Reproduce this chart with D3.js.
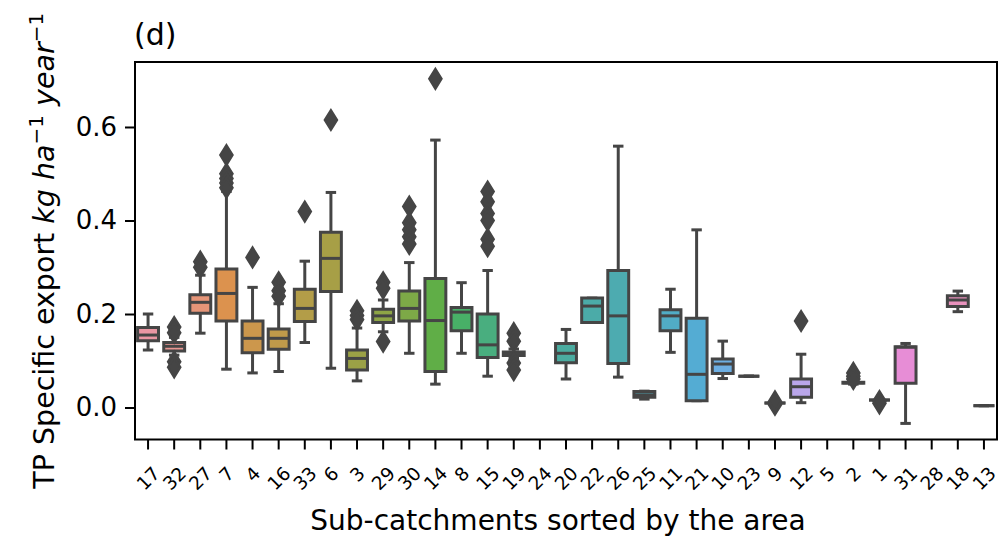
<!DOCTYPE html>
<html lang="en">
<head>
    <meta charset="UTF-8">
    <title>TP specific export by sub-catchment</title>
    <script src="https://cdn.jsdelivr.net/npm/d3@7/dist/d3.min.js"></script>
    <style>
        body { margin: 0; background: #fff; }
        text { font-family: "DejaVu Sans", sans-serif; }
    </style>
</head>
<body>
<svg id="boxplot" width="1004" height="537"></svg>
<script>
    // sub-catchments, sorted by the area
    const categories = ["17","32","27","7","4","16","33","6","3","29","30","14","8","15","19","24",
        "20","22","26","25","11","21","10","23","9","12","5","2","1","31","28","18","13"];
    // box statistics (null = no data)
    const whiskerLow = [0.123,0.112,0.159,0.082,0.074,0.077,0.139,0.084,0.057,0.162,0.116,0.050,0.116,0.067,0.105,null,
        0.061,0.182,0.065,0.018,0.118,0.0146,0.062,0.067,0.0096,0.0103,null,0.050,0.016,-0.034,null,0.205,0.004];
    const q1 = [0.143,0.121,0.2015,0.185,0.117,0.1245,0.184,0.248,0.080,0.182,0.185,0.077,0.164,0.107,0.111,null,
        0.096,0.182,0.094,0.022,0.164,0.0146,0.073,0.067,0.0096,0.022,null,0.052,0.016,0.052,null,0.216,0.004];
    const median = [0.155,0.131,0.225,0.244,0.148,0.148,0.212,0.319,0.105,0.196,0.212,0.186,0.204,0.134,0.115,null,
        0.116,0.217,0.196,0.027,0.196,0.071,0.093,0.067,0.0096,0.0445,null,0.053,0.016,0.129,null,0.230,0.004];
    const q3 = [0.171,0.139,0.241,0.296,0.185,0.168,0.253,0.375,0.123,0.210,0.249,0.276,0.214,0.200,0.119,null,
        0.137,0.234,0.293,0.034,0.209,0.191,0.104,0.067,0.0096,0.061,null,0.054,0.016,0.130,null,0.239,0.004];
    const whiskerHigh = [0.200,0.150,0.283,0.462,0.257,0.222,0.313,0.460,0.170,0.230,0.310,0.572,0.267,0.293,0.125,null,
        0.167,0.234,0.559,0.035,0.253,0.380,0.142,0.067,0.0096,0.114,null,0.056,0.016,0.137,null,0.249,0.004];
    const outliers = [[],[0.172,0.160,0.098,0.086],[0.312,0.300],[0.540,0.500,0.490,0.480,0.470],[0.321],
        [0.268,0.250,0.238],[0.419],[0.615],[0.207,0.197,0.188],[0.268,0.255,0.141],
        [0.430,0.395,0.380,0.365,0.350],[0.703],[],[0.462,0.440,0.415,0.400,0.360,0.345],
        [0.159,0.142,0.095,0.080],[],[],[],[],[],[],[],[],[],[0.006,0.013],[0.185],[],
        [0.074,0.067,0.061],[0.009,0.014],[],[],[],[]];
    const yTicks = [0.0, 0.2, 0.4, 0.6];

    let svg = d3.select('svg#boxplot');
    let plot = {left: 135, right: 997, top: 62, bottom: 439.5};

    // husl palette (seaborn default for many levels), desaturated to 0.75
    const M = [[3.2406, -1.5372, -0.4986], [-0.9689, 1.8758, 0.0415], [0.0557, -0.2040, 1.0570]];
    function maxChroma(L, H) {
        let hrad = H / 360 * 2 * Math.PI, sinH = Math.sin(hrad), cosH = Math.cos(hrad);
        let sub1 = Math.pow(L + 16, 3) / 1560896;
        let sub2 = sub1 > 0.008856 ? sub1 : L / 903.3;
        let result = Infinity;
        M.forEach(function(row){
            let top = (0.99915 * row[0] + 1.05122 * row[1] + 1.14460 * row[2]) * sub2;
            let rbottom = 0.86330 * row[2] - 0.17266 * row[1];
            let lbottom = 0.12949 * row[2] - 0.38848 * row[0];
            let bottom = (rbottom * sinH + lbottom * cosH) * sub2;
            [0, 1].forEach(function(t){
                let C = L * (top - 1.05122 * t) / (bottom + 0.17266 * sinH * t);
                if (C > 0 && C < result) result = C;
            });
        });
        return result;
    }
    function fromLinear(c) { return c <= 0.0031308 ? 12.92 * c : 1.055 * Math.pow(c, 1 / 2.4) - 0.055; }
    function huslToRgb(h, s, l) {
        let C = maxChroma(l, h) / 100 * s;
        let hrad = h / 360 * 2 * Math.PI;
        let U = C * Math.cos(hrad), V = C * Math.sin(hrad);
        let Y = l > 8 ? Math.pow((l + 16) / 116, 3) : l / 903.3;
        let varU = U / (13 * l) + 0.19784, varV = V / (13 * l) + 0.46834;
        let X = -(9 * Y * varU) / ((varU - 4) * varV - varU * varV);
        let Z = (9 * Y - 15 * varV * Y - varV * X) / (3 * varV);
        return M.map(function(r){ return Math.min(1, Math.max(0, fromLinear(r[0] * X + r[1] * Y + r[2] * Z))); });
    }
    let n = categories.length;
    let colours = d3.range(n).map(function(i){
        let h = ((i / n + 0.01) % 1) * 359;
        let rgb = huslToRgb(h, 0.9 * 99, 0.7 * 99);
        let c = d3.hsl(d3.rgb(rgb[0] * 255, rgb[1] * 255, rgb[2] * 255));
        c.s *= 0.75;
        return c;
    });
    let lum = Math.round(d3.min(colours, function(c){ return c.l; }) * 0.6 * 255);
    let gray = d3.rgb(lum, lum, lum).formatHex();

    let xScale = d3.scaleBand().domain(categories).range([plot.left, plot.right]).padding(0);
    let yScale = d3.scaleLinear().domain([-0.0684, 0.739]).range([plot.bottom, plot.top]);

    let boxW = xScale.bandwidth() * 0.8;
    let capW = boxW * 0.5;

    let boxes = categories.map(function(c, i){
        return {cat: c, i: i, lo: whiskerLow[i], q1: q1[i], med: median[i], q3: q3[i], hi: whiskerHigh[i], out: outliers[i]};
    }).filter(function(d){ return d.med !== null; });

    let g = svg.selectAll('g.box')
        .data(boxes)
        .enter()
        .append('g')
        .attr('class', 'box')
        .attr('transform', function(d){ return 'translate(' + (xScale(d.cat) + xScale.bandwidth() / 2) + ',0)'; });

    let lineW = 3;
    // whiskers
    g.append('line').attr('x1', 0).attr('x2', 0)
        .attr('y1', function(d){ return yScale(d.q1); }).attr('y2', function(d){ return yScale(d.lo); })
        .attr('stroke', gray).attr('stroke-width', lineW);
    g.append('line').attr('x1', 0).attr('x2', 0)
        .attr('y1', function(d){ return yScale(d.q3); }).attr('y2', function(d){ return yScale(d.hi); })
        .attr('stroke', gray).attr('stroke-width', lineW);
    // caps
    ['lo', 'hi'].forEach(function(k){
        g.append('line').attr('x1', -capW / 2).attr('x2', capW / 2)
            .attr('y1', function(d){ return yScale(d[k]); }).attr('y2', function(d){ return yScale(d[k]); })
            .attr('stroke', gray).attr('stroke-width', lineW);
    });
    // box
    g.append('path')
        .attr('d', function(d){
            let y0 = yScale(d.q3), y1 = yScale(d.q1);
            return 'M' + (-boxW / 2) + ',' + y0 + 'H' + (boxW / 2) + 'V' + y1 + 'H' + (-boxW / 2) + 'Z';
        })
        .attr('fill', function(d){ return colours[d.i]; })
        .attr('stroke', gray).attr('stroke-width', lineW).attr('stroke-linejoin', 'miter');
    // median
    g.append('line').attr('x1', -boxW / 2).attr('x2', boxW / 2)
        .attr('y1', function(d){ return yScale(d.med); }).attr('y2', function(d){ return yScale(d.med); })
        .attr('stroke', gray).attr('stroke-width', lineW);
    // fliers (thin diamonds)
    g.selectAll('path.flier')
        .data(function(d){ return d.out; })
        .enter()
        .append('path')
        .attr('class', 'flier')
        .attr('d', function(v){
            let y = yScale(v), hh = 10, hw = 6.2;
            return 'M0,' + (y - hh) + 'L' + hw + ',' + y + 'L0,' + (y + hh) + 'L' + (-hw) + ',' + y + 'Z';
        })
        .attr('fill', gray).attr('stroke', gray).attr('stroke-width', 2.2).attr('stroke-linejoin', 'miter');

    // frame
    svg.append('rect')
        .attr('x', plot.left).attr('y', plot.top)
        .attr('width', plot.right - plot.left).attr('height', plot.bottom - plot.top)
        .attr('fill', 'none').attr('stroke', '#000').attr('stroke-width', 2);

    // y axis
    let yAxis = svg.append('g')
        .attr('transform', 'translate(' + plot.left + ',0)')
        .call(d3.axisLeft(yScale).tickValues(yTicks).tickFormat(d3.format('.1f')).tickSize(10).tickPadding(8));
    yAxis.select('.domain').remove();
    yAxis.selectAll('line').attr('stroke', '#000').attr('stroke-width', 2);
    yAxis.selectAll('text').attr('fill', '#000').style('font-size', '26px').style('font-family', '"DejaVu Sans"');

    // x axis
    let fs = 18.5, labelTop = 465;
    let xAxis = svg.append('g')
        .attr('transform', 'translate(0,' + plot.bottom + ')')
        .call(d3.axisBottom(xScale).tickSize(10));
    xAxis.select('.domain').remove();
    xAxis.selectAll('line').attr('stroke', '#000').attr('stroke-width', 2);
    xAxis.selectAll('text')
        .attr('fill', '#000')
        .style('font-size', fs + 'px')
        .style('font-family', '"DejaVu Sans"')
        .each(function(){
            let w = this.getComputedTextLength();
            let half = (w + 0.73 * fs) / (2 * Math.SQRT2);
            d3.select(this)
                .attr('y', 0)
                .attr('dy', 0.365 * fs)
                .attr('text-anchor', 'middle')
                .attr('transform', 'translate(0,' + (labelTop - plot.bottom + half) + ') rotate(-45)');
        });

    // labels
    svg.append('text')
        .attr('x', 558).attr('y', 530)
        .attr('text-anchor', 'middle')
        .style('font-size', '28px')
        .text('Sub-catchments sorted by the area');

    let yLabel = svg.append('text')
        .attr('transform', 'translate(54,' + ((plot.top + plot.bottom) / 2) + ') rotate(-90)')
        .attr('text-anchor', 'middle')
        .style('font-size', '28.5px');
    yLabel.append('tspan').text('TP Specific export ');
    yLabel.append('tspan').style('font-style', 'italic').text('kg ha');
    yLabel.append('tspan').attr('dy', -11).style('font-size', '20px').text('\u22121');
    yLabel.append('tspan').attr('dy', 11).text(' ');
    yLabel.append('tspan').style('font-style', 'italic').text('year');
    yLabel.append('tspan').attr('dy', -11).style('font-size', '20px').text('\u22121');

    svg.append('text')
        .attr('x', 134).attr('y', 45)
        .style('font-size', '30px')
        .text('(d)');
</script>
</body>
</html>
